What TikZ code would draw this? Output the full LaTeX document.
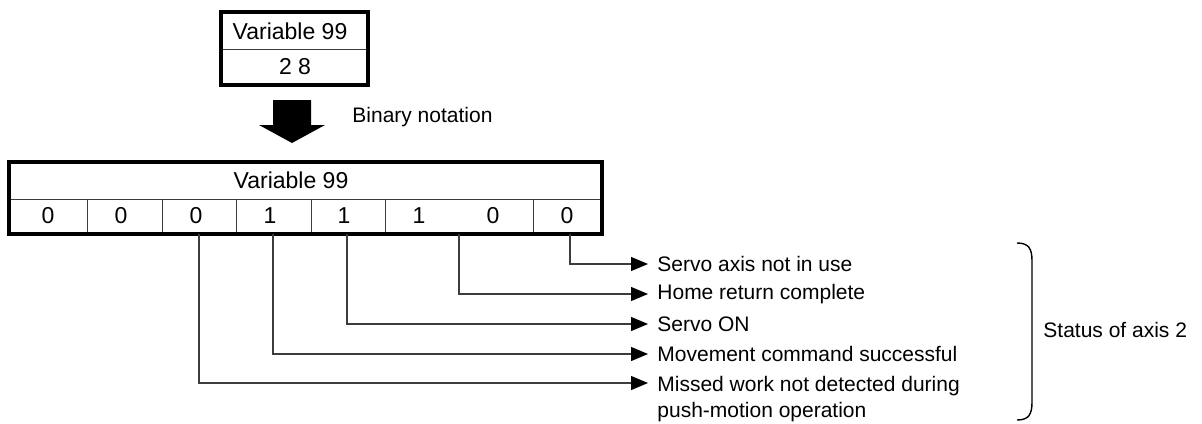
\documentclass[tikz,border=0pt]{standalone}
\usepackage{fontspec}
\setmainfont{Liberation Sans}
\usepackage{xcolor}
\usepackage{tikz}
\usetikzlibrary{arrows.meta}
\definecolor{GrisLinea}{RGB}{60,60,60}

\begin{document}
\begin{tikzpicture}[x=0.5pt,y=-0.5pt,>={Triangle[length=8.5pt,width=7pt,color=black]},
  caja/.style={line width=1.6pt},
  celda/.style={line width=0.5pt,GrisLinea},
  guia/.style={line width=0.6pt,GrisLinea},
  dato/.style={inner sep=0pt,font=\fontsize{11.5}{13}\selectfont},
  etiqueta/.style={anchor=west,inner sep=0pt,align=left,font=\fontsize{10.5}{13}\selectfont}]
  \useasboundingbox (0,0) rectangle (1202,423);
  \draw[celda] (221,49) -- (368,49);
  \draw[caja] (221,12) rectangle (368,85);
  \node[dato] (var) at (290,31) {Variable 99};
  \node[dato] (val) at (295,67) {2 8};
  \fill (273,100) -- (311,100) -- (311,125) -- (325,125) -- (292,143) -- (259,125) -- (273,125) -- cycle;
  \node[etiqueta] (bin) at (352,117) {Binary notation};
  \draw[celda] (9,199) -- (602,199);
  \foreach \x in {87,162,236,311,385,533} \draw[celda] (\x,199) -- (\x,234);
  \draw[caja] (9,162) rectangle (602,234);
  \node[dato] (reg) at (291,180) {Variable 99};
  \foreach \x/\d [count=\i] in {48/0,121/0,196/0,270/1,344/1,419/1,493/0,567/0}
    \node[dato] (bit\i) at (\x,216) {\d};
  \foreach \x/\y [count=\i from 0] in {570/264,459/294,347/324,273/354,199/383}{
    \coordinate (sal\i) at (\x,234);
    \coordinate (pun\i) at (648,\y);
    \draw[guia,->] (sal\i) |- (pun\i);
  }
  \node[etiqueta] (e0) at (657,264) {Servo axis not in use};
  \node[etiqueta] (e1) at (657,294) {Home return complete};
  \node[etiqueta] (e2) at (657,324) {Servo ON};
  \node[etiqueta] (e3) at (657,354) {Movement command successful};
  \node[etiqueta,anchor=north west] (e4) at (657,376) {Missed work not detected during\\push-motion operation};
  \draw[line width=0.7pt] (1017,243) .. controls (1029,243) and (1032,249) .. (1032,261) -- (1032,402) .. controls (1032,414) and (1029,420) .. (1017,420);
  \node[etiqueta] (eje) at (1043,330) {Status of axis 2};
\end{tikzpicture}
\end{document}
